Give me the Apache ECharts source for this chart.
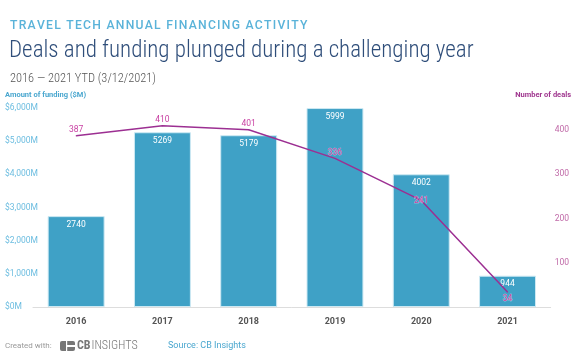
<!DOCTYPE html>
<html>
<head>
<meta charset="utf-8">
<script src="https://cdn.jsdelivr.net/npm/echarts@6/dist/echarts.min.js"></script>
<style>
html,body{margin:0;padding:0;background:#fff;}
#c{width:572px;height:364px;}
</style>
</head>
<body>
<div id="c"></div>
<script>
var categories = ['2016', '2017', '2018', '2019', '2020', '2021'];
var funding = [2740, 5269, 5179, 5999, 4002, 944];
var deals = [387, 410, 401, 336, 241, 34];
var leftTicks = ['$0M', '$1,000M', '$2,000M', '$3,000M', '$4,000M', '$5,000M', '$6,000M'];
var rightTicks = ['100', '200', '300', '400'];

var dealLabelPos = ['top', 'top', 'top', 'top', 'inside', 'bottom'];

var chart = echarts.init(document.getElementById('c'), null, {renderer: 'canvas'});
var condensed = '"Roboto Condensed", "Liberation Sans Narrow", "DejaVu Sans Condensed", sans-serif';
var kicker = 'TRAVEL TECH ANNUAL FINANCING ACTIVITY'.split('').join('\u200A');

chart.setOption({
  animation: false,
  backgroundColor: '#fff',
  title: [
    {text: kicker, left: 5, top: 15,
     textStyle: {color: '#5ab3d9', fontSize: 12.2, fontWeight: 500, fontFamily: 'Roboto'}},
    {text: 'Deals and funding plunged during a challenging year', left: 4, top: 35,
     textStyle: {color: '#2f4e7a', fontSize: 23, fontWeight: 300, fontFamily: condensed}},
    {text: '2016 — 2021 YTD (3/12/2021)', left: 5, top: 68,
     textStyle: {color: '#555', fontSize: 12.4, fontWeight: 300, fontFamily: condensed}}
  ],
  grid: {left: 33, right: 15, top: 108, bottom: 57},
  xAxis: {
    type: 'category',
    data: categories,
    axisLine: {lineStyle: {color: '#ddd', width: 1}},
    axisTick: {alignWithLabel: true, length: 5, lineStyle: {color: '#ddd'}},
    axisLabel: {color: '#555', fontSize: 9, fontWeight: 'bold', margin: 10, fontFamily: 'Roboto'}
  },
  yAxis: [
    {
      type: 'value', min: 0, max: 6000, interval: 1000,
      splitLine: {show: false},
      axisLine: {show: false}, axisTick: {show: false},
      axisLabel: {color: '#6cbde0', fontSize: 8.5, align: 'left', margin: 28, fontFamily: 'Roboto',
        formatter: function (v) { return leftTicks[Math.round(v / 1000)]; }}
    },
    {
      type: 'value', min: 0, max: 450, interval: 100,
      splitLine: {show: false},
      axisLine: {show: false}, axisTick: {show: false},
      axisLabel: {color: '#c06aa8', fontSize: 8.5, margin: 4, fontFamily: 'Roboto',
        formatter: function (v) { var s = String(v); return rightTicks.indexOf(s) >= 0 ? s : ''; }}
    }
  ],
  series: [
    {
      type: 'bar',
      data: funding,
      barCategoryGap: '34%',
      itemStyle: {color: '#3fa1c6', borderColor: '#cde9f3', borderWidth: 1},
      label: {show: true, position: 'insideTop', distance: 4, color: '#fff', fontSize: 8.5, fontFamily: 'Roboto'}
    },
    {
      type: 'line',
      yAxisIndex: 1,
      data: deals.map(function (v, i) {
        return {value: v, label: {position: dealLabelPos[i], distance: dealLabelPos[i] === 'top' ? 1 : 2}};
      }),
      symbol: 'circle', symbolSize: 1,
      lineStyle: {color: '#9c2f92', width: 1.5},
      itemStyle: {color: '#9c2f92'},
      label: {show: true, color: '#c83fa2', fontSize: 8.5, fontFamily: 'Roboto',
              textBorderColor: 'rgba(255,255,255,0.6)', textBorderWidth: 0.6}
    }
  ],
  graphic: [
    {type: 'text', left: 5, top: 91, style: {text: 'Amount of funding ($M)', fill: '#4aa7cf', font: 'bold 7.5px Roboto'}},
    {type: 'text', right: 1, top: 91, style: {text: 'Number of deals', fill: '#a0378f', font: 'bold 7.5px Roboto'}},
    {type: 'text', left: 5, top: 342, style: {text: 'Created with:', fill: '#999', font: '8px Roboto'}},
    {type: 'group', left: 60, top: 340, children: [
      {type: 'rect', shape: {x: 0, y: 0, width: 15, height: 10, r: 2}, style: {fill: '#777'}},
      {type: 'rect', shape: {x: 7, y: 4, width: 8, height: 2}, style: {fill: '#fff'}},
      {type: 'rect', shape: {x: 6, y: 0, width: 1.2, height: 10}, style: {fill: '#fff'}},
      {type: 'text', x: 17, y: -1, style: {text: 'CB', fill: '#777', font: 'bold 12px ' + condensed}},
      {type: 'text', x: 31.5, y: -1, style: {text: 'INSIGHTS', fill: '#777', font: '300 12px ' + condensed}}
    ]},
    {type: 'text', left: 168, top: 341, style: {text: 'Source: CB Insights', fill: '#4aa7cf', font: '9px Roboto'}}
  ]
});
</script>
</body>
</html>
